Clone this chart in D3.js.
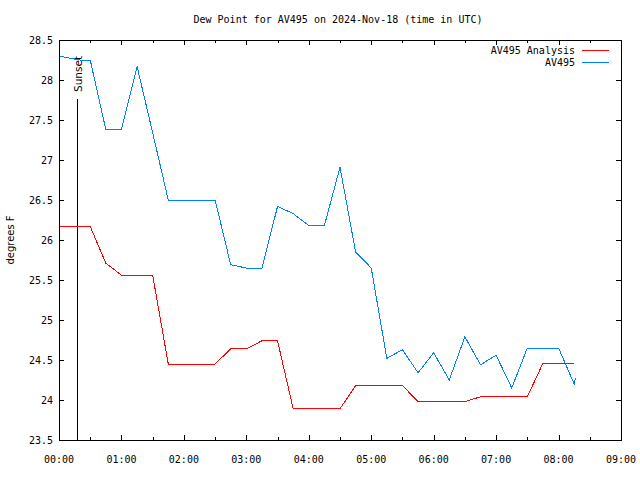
<!DOCTYPE html>
<html><head><meta charset="utf-8">
<script src="https://cdn.jsdelivr.net/npm/d3@7"></script>
<style>body{margin:0;background:#fff}svg{display:block}</style>
</head><body>
<svg id="c" width="640" height="480"></svg>
<script>
const title = "Dew Point for AV495 on 2024-Nov-18 (time in UTC)";
const yLabel = "degrees F";
const seriesNames = ["AV495 Analysis", "AV495"];
const seriesColors = ["#ff0000", "#0080ff"];
// times in hours UTC
const analysisHours = [0,0.25,0.5,0.75,1,1.25,1.5,1.75,2,2.25,2.5,2.75,3,3.25,3.5,3.75,4,4.25,4.5,4.75,5,5.25,5.5,5.75,6,6.25,6.5,6.75,7,7.25,7.5,7.75,8,8.25];
const analysisValues = [26.17,26.17,26.17,25.71,25.56,25.56,25.56,24.45,24.45,24.45,24.45,24.64,24.64,24.74,24.74,23.89,23.89,23.89,23.89,24.18,24.18,24.18,24.18,23.98,23.98,23.98,23.98,24.04,24.04,24.04,24.04,24.46,24.46,24.46];
const obsHours = [0,0.33,0.5,0.75,1,1.25,1.5,1.75,2,2.25,2.5,2.75,3,3.25,3.5,3.75,4,4.25,4.5,4.75,5,5.25,5.5,5.75,6,6.25,6.5,6.75,7,7.25,7.5,7.75,8,8.25,8.27];
const obsValues = [28.3,28.25,28.25,27.38,27.38,28.17,27.34,26.5,26.5,26.5,26.5,25.69,25.65,25.65,26.42,26.33,26.18,26.18,26.91,25.85,25.65,24.52,24.63,24.34,24.59,24.25,24.79,24.44,24.56,24.15,24.65,24.65,24.65,24.2,24.27];
const sunsetHour = 0.29;
const sunsetLabel = "Sunset";
const xTicks = [0,1,2,3,4,5,6,7,8,9];
const xTickLabels = ["00:00","01:00","02:00","03:00","04:00","05:00","06:00","07:00","08:00","09:00"];
const yTicks = [23.5,24,24.5,25,25.5,26,26.5,27,27.5,28,28.5];
const yTickLabels = ["23.5","24","24.5","25","25.5","26","26.5","27","27.5","28","28.5"];

const L=59,R=621,T=40,B=440;
const svg=d3.select("#c");
const x=d3.scaleLinear().domain([0,9]).range([L,R]);
const y=d3.scaleLinear().domain([23.5,28.5]).range([B,T]);
const mono="'DejaVu Sans Mono', monospace";
const sans="'DejaVu Sans', sans-serif";

svg.append("text").attr("x",338).attr("y",23).attr("text-anchor","middle")
  .style("font-family",mono).style("font-size","10px").text(title);

// ticks
const minor=d3.range(0.5,9,1);
const g=svg.append("g").attr("stroke","#000").attr("stroke-width",1).attr("shape-rendering","crispEdges");
xTicks.slice(1,-1).forEach(t=>{const px=Math.round(x(t))+0.5;
  g.append("line").attr("x1",px).attr("x2",px).attr("y1",B).attr("y2",B-5);
  g.append("line").attr("x1",px).attr("x2",px).attr("y1",T).attr("y2",T+5);});
minor.forEach(t=>{const px=Math.round(x(t))+0.5;
  g.append("line").attr("x1",px).attr("x2",px).attr("y1",B).attr("y2",B-3);
  g.append("line").attr("x1",px).attr("x2",px).attr("y1",T).attr("y2",T+3);});
yTicks.slice(1,-1).forEach(t=>{const py=Math.round(y(t))+0.5;
  g.append("line").attr("x1",L).attr("x2",L+5).attr("y1",py).attr("y2",py);
  g.append("line").attr("x1",R).attr("x2",R-5).attr("y1",py).attr("y2",py);});

// tick labels
xTicks.forEach((t,i)=>svg.append("text").attr("x",x(t)).attr("y",463).attr("text-anchor","middle")
  .style("font-family",mono).style("font-size","10px").text(xTickLabels[i]));
yTicks.forEach((t,i)=>svg.append("text").attr("x",53).attr("y",y(t)+4).attr("text-anchor","end")
  .style("font-family",mono).style("font-size","10px").text(yTickLabels[i]));

svg.append("text").attr("transform","translate(14,240) rotate(-90)").attr("text-anchor","middle")
  .style("font-family",sans).style("font-size","10px").text(yLabel);

// sunset
const sx=Math.round(x(sunsetHour))+0.5;
svg.append("line").attr("x1",sx).attr("x2",sx).attr("y1",99).attr("y2",B).attr("stroke","#000").attr("shape-rendering","crispEdges");
svg.append("text").attr("transform",`translate(${sx+4},92) rotate(-90)`).attr("text-anchor","start")
  .style("font-family",sans).style("font-size","10.5px").text(sunsetLabel);

// lines
const line=d3.line().x(d=>x(d[0])).y(d=>y(d[1]));
svg.append("path").datum(analysisHours.map((h,i)=>[h,analysisValues[i]])).attr("d",line)
  .attr("fill","none").attr("stroke",seriesColors[0]).attr("stroke-width",1).attr("shape-rendering","crispEdges");
svg.append("path").datum(obsHours.map((h,i)=>[h,obsValues[i]])).attr("d",line)
  .attr("fill","none").attr("stroke",seriesColors[1]).attr("stroke-width",1).attr("shape-rendering","crispEdges");

// legend
seriesNames.forEach((n,i)=>{const ly=50+i*12;
  svg.append("text").attr("x",575).attr("y",ly+4).attr("text-anchor","end")
    .style("font-family",mono).style("font-size","10px").text(n);
  svg.append("line").attr("x1",582).attr("x2",609).attr("y1",ly+0.5).attr("y2",ly+0.5)
    .attr("stroke",seriesColors[i]).attr("shape-rendering","crispEdges");});

// frame
svg.append("rect").attr("x",L+0.5).attr("y",T+0.5).attr("width",R-L).attr("height",B-T)
  .attr("fill","none").attr("stroke","#000").attr("shape-rendering","crispEdges");
</script>
</body></html>
